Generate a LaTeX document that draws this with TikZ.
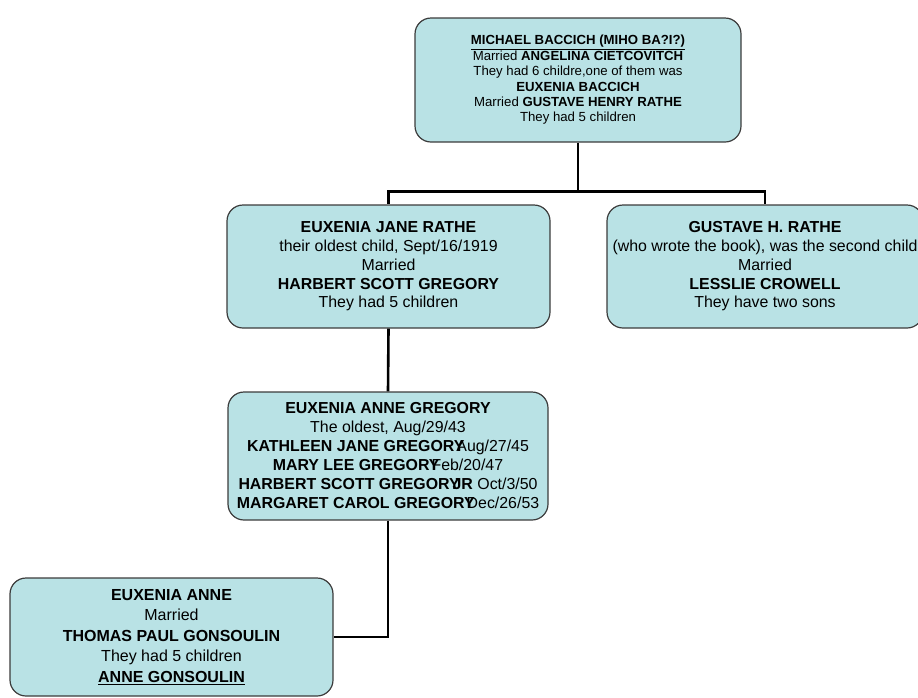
\documentclass[tikz,border=0pt]{standalone}
\usepackage{fontspec}
\setmainfont{Liberation Sans}
\usetikzlibrary{positioning,calc}
\definecolor{boxfill}{RGB}{185,226,229}
\definecolor{boxline}{RGB}{60,60,60}

\begin{document}
\begin{tikzpicture}[x=1pt,y=-1pt,
  person/.style={draw=boxline,line width=1.2pt,fill=boxfill,rounded corners=16pt,
    align=center,inner sep=0pt},
  link/.style={line width=2.6pt,black}]
  \useasboundingbox (0,0) rectangle (918,697);

  \node [person,minimum width=326pt,minimum height=124pt,
    font={\fontsize{13.2}{15.4}\selectfont}] (michael) at (578,80)
    {\underline{\textbf{MICHAEL BACCICH (MIHO BA?I?)}}\\
     Married \textbf{ANGELINA CIETCOVITCH}\\
     They had 6 childre,one of them was\\
     \textbf{EUXENIA BACCICH}\\
     Married \textbf{GUSTAVE HENRY RATHE}\\
     They had 5 children};

  \node [person,minimum width=323pt,minimum height=123pt,
    font={\fontsize{15.9}{18.75}\selectfont}] (euxenia) at (388.5,266.5)
    {\textbf{EUXENIA JANE RATHE}\\
     their oldest child, Sept/16/1919\\
     Married\\
     \textbf{HARBERT SCOTT GREGORY}\\
     They had 5 children};

  \node [person,minimum width=316pt,minimum height=123pt,
    font={\fontsize{15.9}{18.75}\selectfont}] (gustave) at (765,266.5)
    {\textbf{GUSTAVE H. RATHE}\\
     \makebox[0pt][c]{(who wrote the book), was the second child}\\
     Married\\
     \textbf{LESSLIE CROWELL}\\
     They have two sons};

  \node [person,minimum width=320pt,minimum height=128pt,
    font={\fontsize{15.9}{19}\selectfont}] (gregory) at (388,456)
    {\textbf{EUXENIA ANNE GREGORY}\\
     The oldest, Aug/29/43\\
     \textbf{KATHLEEN JANE GREGORY}\kern-8pt Aug/27/45\\
     \textbf{MARY LEE GREGORY}\kern-8pt Feb/20/47\\
     \textbf{HARBERT SCOTT GREGORY}\kern-7pt\textbf{JR} Oct/3/50\\
     \textbf{MARGARET CAROL GREGORY}\kern-8pt Dec/26/53};

  \node [person,minimum width=323pt,minimum height=118pt,
    font={\fontsize{16}{20.5}\selectfont}] (gonsoulin) at (171.5,637)
    {\textbf{EUXENIA ANNE}\\
     Married\\
     \textbf{THOMAS PAUL GONSOULIN}\\
     They had 5 children\\
     \underline{\textbf{ANNE GONSOULIN}}};

  \coordinate (split) at ($(michael.south)+(0,49)$);
  \draw[link] (michael.south) -- (split) -| (euxenia.north);
  \draw[link] (split) -| (gustave.north);

  \draw[link] (euxenia.south) -- (gregory.north);

  \draw[link] (gregory.south) |- (gonsoulin.east);
\end{tikzpicture}
\end{document}
